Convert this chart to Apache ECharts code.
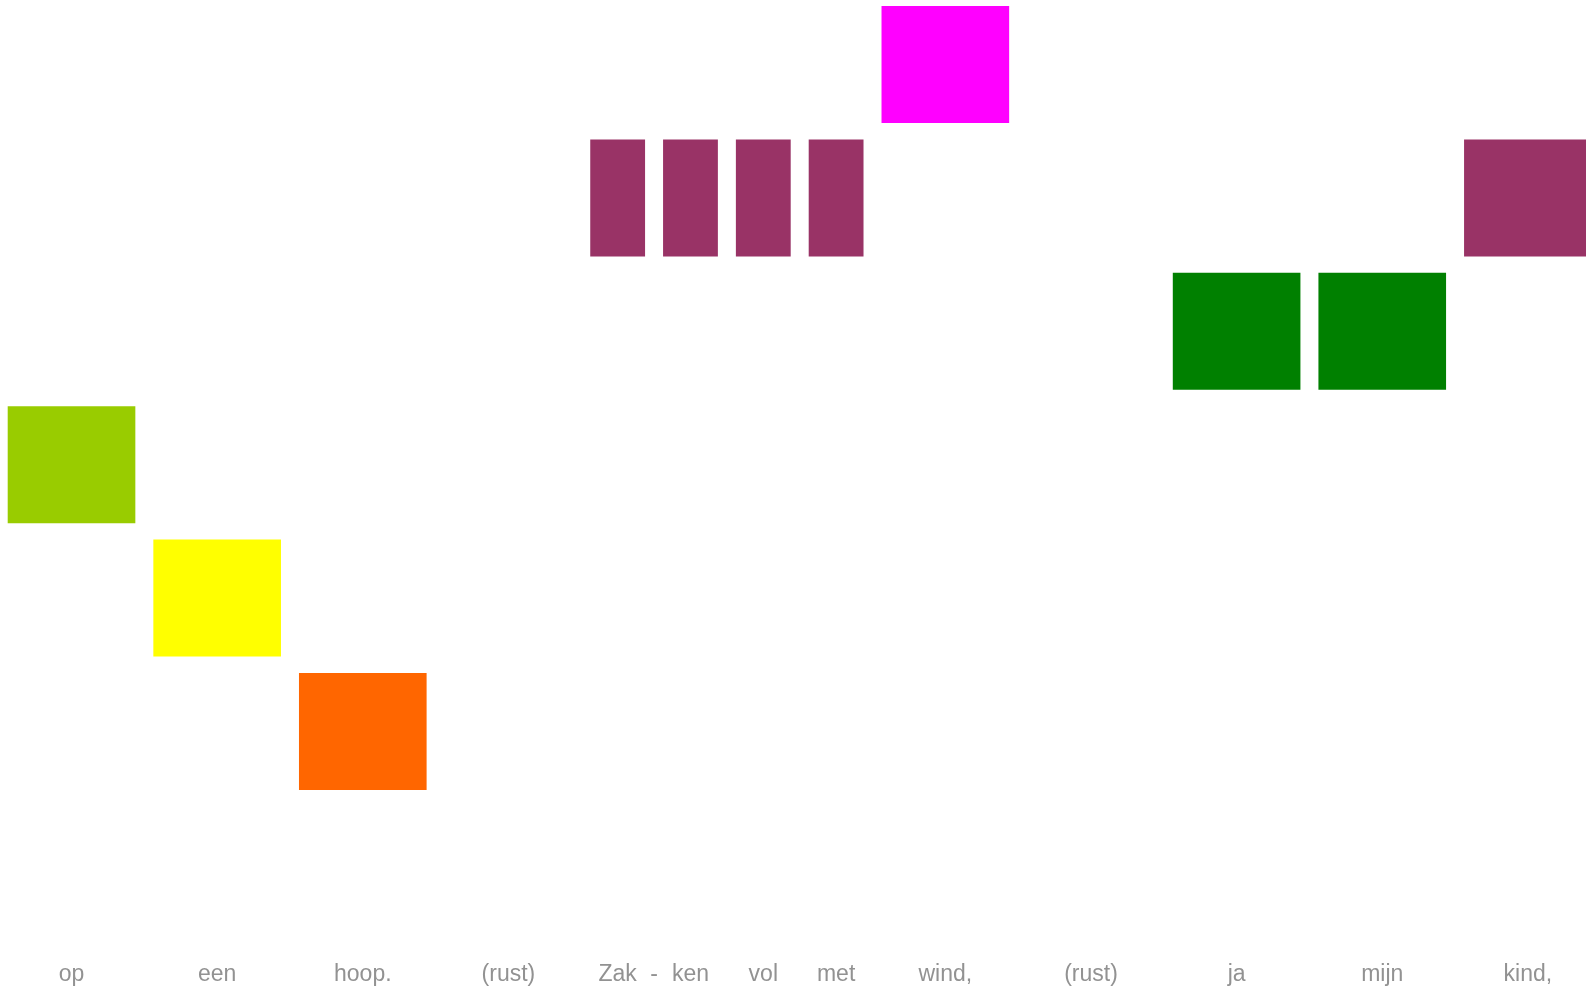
<!DOCTYPE html>
<html>
<head>
<meta charset="utf-8">
<script src="https://cdn.jsdelivr.net/npm/echarts@6/dist/echarts.min.js"></script>
<style>
html,body{margin:0;padding:0;background:#fff;}
#chart{width:1586px;height:993px;}
</style>
</head>
<body>
<div id="chart"></div>
<script>
// Notes: start beat, duration (beats), pitch level
const noteStarts = [0, 1, 2, 4, 4.5, 5, 5.5, 6, 8, 9, 10];
const noteDurations = [1, 1, 1, 0.5, 0.5, 0.5, 0.5, 1, 1, 1, 1];
const notePitches = [4, 3, 2, 6, 6, 6, 6, 7, 5, 5, 6];
// Colour per pitch level (index = pitch)
const pitchColors = ['#000000', '#3366FF', '#FF6600', '#FFFF00', '#99CC00', '#008000', '#993366', '#FF00FF'];
// Lyrics along the bottom
const lyricTexts = ['op', 'een', 'hoop.', '(rust)', 'Zak', '-', 'ken', 'vol', 'met', 'wind,', '(rust)', 'ja', 'mijn', 'kind,'];
const lyricPositions = [0.5, 1.5, 2.5, 3.5, 4.25, 4.5, 4.75, 5.25, 5.75, 6.5, 7.5, 8.5, 9.5, 10.5];
const totalBeats = 11;

const data = noteStarts.map((s, i) => [s, s + noteDurations[i], notePitches[i]]);

const chart = echarts.init(document.getElementById('chart'), null, {renderer: 'canvas'});
chart.setOption({
  backgroundColor: '#ffffff',
  animation: false,
  grid: {left: -1.3, top: -2.2, width: 1602, height: 933.8, containLabel: false, outerBoundsMode: 'none'},
  xAxis: {
    type: 'value', min: 0, max: totalBeats,
    axisLine: {show: false}, axisTick: {show: false}, splitLine: {show: false},
    axisLabel: {
      customValues: lyricPositions,
      margin: 32,
      color: '#929292',
      fontSize: 23,
      fontFamily: '"Liberation Sans Narrow", "Liberation Sans", Arial, sans-serif',
      formatter: function (v) {
        const i = lyricPositions.findIndex(p => Math.abs(p - v) < 1e-6);
        return i >= 0 ? lyricTexts[i] : '';
      }
    }
  },
  yAxis: {
    type: 'value', min: 0.5, max: 7.5,
    axisLine: {show: false}, axisTick: {show: false}, splitLine: {show: false}, axisLabel: {show: false}
  },
  series: [{
    type: 'custom',
    data: data,
    encode: {x: [0, 1], y: 2},
    renderItem: function (params, api) {
      const s = api.value(0), e = api.value(1), p = api.value(2);
      const tl = api.coord([s, p + 0.5]);
      const br = api.coord([e, p - 0.5]);
      const hIn = 9, vIn = 8.2;
      return {
        type: 'rect',
        shape: {x: tl[0] + hIn, y: tl[1] + vIn, width: br[0] - tl[0] - 2 * hIn, height: br[1] - tl[1] - 2 * vIn},
        style: {fill: pitchColors[p]}
      };
    }
  }]
});
</script>
</body>
</html>
